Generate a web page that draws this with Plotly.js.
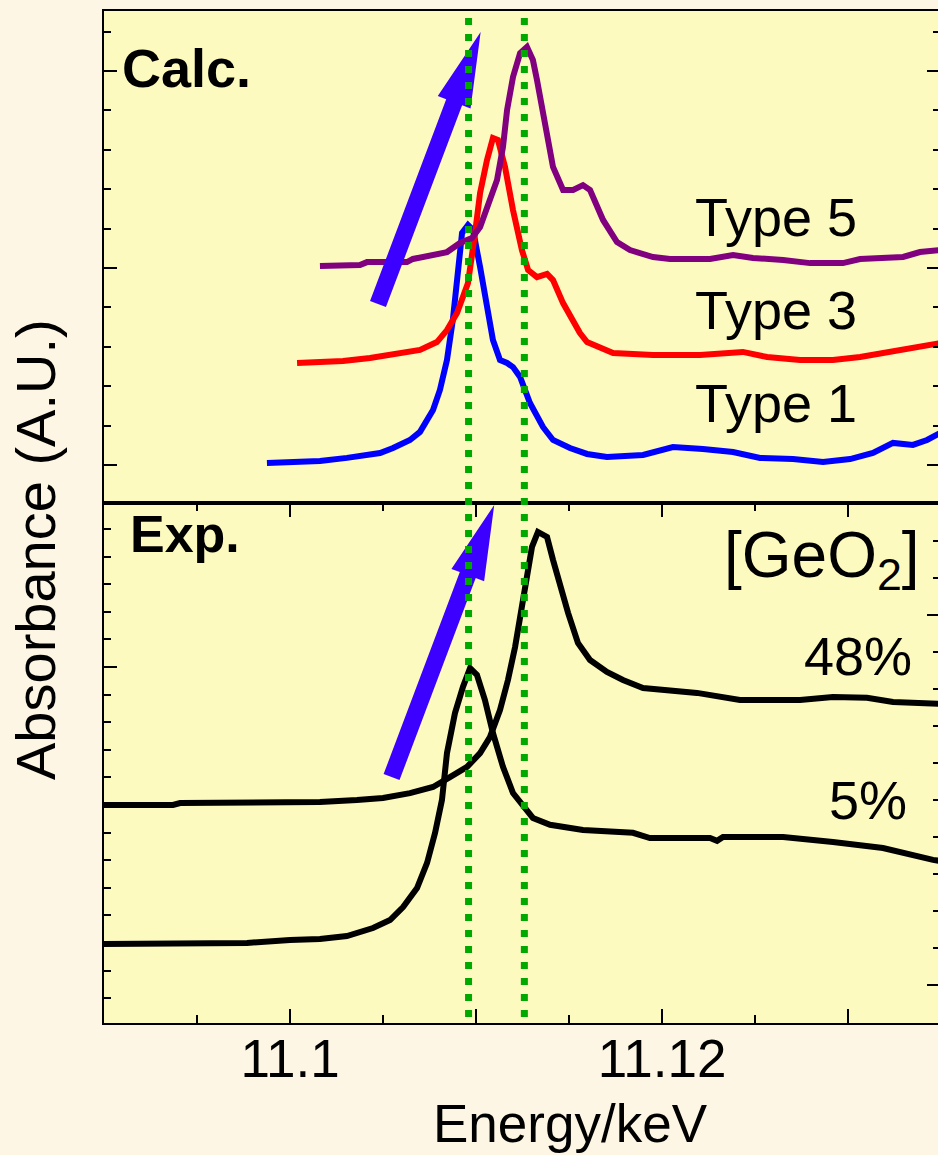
<!DOCTYPE html>
<html>
<head>
<meta charset="utf-8">
<script src="https://cdn.plot.ly/plotly-3.0.1.min.js"></script>
<style>
  html, body { margin: 0; padding: 0; overflow: hidden; background: #fdf6e4; }
</style>
</head>
<body>
<div id="chart"></div>
<script>
// ---- Calculated spectra (energy in keV, absorbance offset per type) ----
const type1Energy = [11.09876, 11.10054, 11.10161, 11.10306, 11.10484, 11.10554, 11.10645, 11.10699, 11.10769, 11.10806, 11.10844, 11.10876, 11.10925, 11.10957, 11.10984, 11.11022, 11.11065, 11.11091, 11.11129, 11.11167, 11.11199, 11.11237, 11.11290, 11.11360, 11.11414, 11.11505, 11.11597, 11.11704, 11.11898, 11.12059, 11.12220, 11.12382, 11.12527, 11.12704, 11.12866, 11.13011, 11.13134, 11.13242, 11.13349, 11.13425, 11.13495];
const type1Abs = [0.010, 0.020, 0.020, 0.036, 0.061, 0.086, 0.127, 0.168, 0.279, 0.381, 0.533, 0.741, 1.178, 1.218, 1.193, 1.005, 0.751, 0.635, 0.533, 0.518, 0.497, 0.447, 0.315, 0.193, 0.127, 0.086, 0.056, 0.041, 0.051, 0.091, 0.081, 0.066, 0.036, 0.030, 0.015, 0.030, 0.061, 0.112, 0.102, 0.127, 0.162];

const type3Energy = [11.10038, 11.10285, 11.10430, 11.10538, 11.10699, 11.10790, 11.10844, 11.10898, 11.10957, 11.10995, 11.11022, 11.11059, 11.11091, 11.11118, 11.11156, 11.11199, 11.11247, 11.11280, 11.11328, 11.11382, 11.11414, 11.11468, 11.11559, 11.11597, 11.11667, 11.11737, 11.11952, 11.12204, 11.12435, 11.12565, 11.12742, 11.12919, 11.13065, 11.13210, 11.13349, 11.13495];
const type3Abs = [0.518, 0.528, 0.543, 0.558, 0.584, 0.624, 0.685, 0.772, 0.924, 1.178, 1.381, 1.548, 1.660, 1.650, 1.513, 1.294, 1.091, 0.990, 0.954, 0.970, 0.939, 0.822, 0.670, 0.624, 0.594, 0.569, 0.558, 0.558, 0.574, 0.548, 0.533, 0.533, 0.548, 0.574, 0.594, 0.619];

const type5Energy = [11.10161, 11.10376, 11.10414, 11.10629, 11.10661, 11.10790, 11.10844, 11.10914, 11.10978, 11.11022, 11.11075, 11.11113, 11.11145, 11.11167, 11.11199, 11.11237, 11.11274, 11.11306, 11.11328, 11.11355, 11.11382, 11.11414, 11.11468, 11.11522, 11.11575, 11.11613, 11.11683, 11.11758, 11.11828, 11.11882, 11.11952, 11.12043, 11.12258, 11.12382, 11.12489, 11.12651, 11.12796, 11.12973, 11.13065, 11.13296, 11.13387, 11.13495];
const type5Abs = [1.010, 1.015, 1.030, 1.030, 1.046, 1.066, 1.081, 1.127, 1.152, 1.208, 1.345, 1.447, 1.614, 1.802, 1.970, 2.091, 2.122, 2.056, 1.954, 1.802, 1.650, 1.513, 1.396, 1.396, 1.421, 1.396, 1.244, 1.132, 1.091, 1.076, 1.056, 1.046, 1.046, 1.066, 1.051, 1.041, 1.025, 1.025, 1.046, 1.056, 1.081, 1.091];

// ---- Measured spectra for two GeO2 contents ----
const exp5Energy = [11.09000, 11.09769, 11.10000, 11.10161, 11.10306, 11.10446, 11.10538, 11.10608, 11.10683, 11.10737, 11.10780, 11.10817, 11.10844, 11.10887, 11.10930, 11.10968, 11.11005, 11.11048, 11.11091, 11.11145, 11.11199, 11.11253, 11.11306, 11.11398, 11.11575, 11.11844, 11.11935, 11.12258, 11.12296, 11.12328, 11.12651, 11.12919, 11.13188, 11.13457, 11.13495];
const exp5Abs = [-0.004, 0.000, 0.011, 0.014, 0.025, 0.054, 0.083, 0.130, 0.199, 0.290, 0.399, 0.518, 0.688, 0.833, 0.928, 0.996, 0.971, 0.880, 0.761, 0.638, 0.543, 0.493, 0.453, 0.428, 0.409, 0.399, 0.380, 0.380, 0.370, 0.384, 0.384, 0.366, 0.344, 0.301, 0.297];

const exp48Energy = [11.09000, 11.09371, 11.09409, 11.10091, 11.10161, 11.10360, 11.10500, 11.10645, 11.10769, 11.10860, 11.10952, 11.11022, 11.11075, 11.11129, 11.11172, 11.11210, 11.11247, 11.11274, 11.11301, 11.11333, 11.11382, 11.11414, 11.11452, 11.11495, 11.11548, 11.11613, 11.11704, 11.11790, 11.11898, 11.12005, 11.12188, 11.12419, 11.12742, 11.12919, 11.13102, 11.13242, 11.13495];
const exp48Abs = [0.500, 0.500, 0.507, 0.507, 0.511, 0.518, 0.525, 0.543, 0.565, 0.601, 0.638, 0.688, 0.746, 0.844, 0.953, 1.072, 1.217, 1.326, 1.435, 1.489, 1.471, 1.388, 1.290, 1.196, 1.087, 1.025, 0.982, 0.953, 0.924, 0.917, 0.906, 0.880, 0.880, 0.891, 0.888, 0.873, 0.866];

// Peak energies marked by dotted guides
const guideEnergies = [11.1096, 11.1126];

// Energy axis: labelled ticks and unlabelled intermediate major ticks
const energyLabelVals = [11.10, 11.12];
const energyLabelText = ['11.1', '11.12'];
const energyPlainVals = [11.09, 11.11, 11.13];

// Labels
const calcLabels = ['Type 1', 'Type 3', 'Type 5'];
const expLabels = ['5%', '48%'];

// ---- Figure geometry ----
const W = 944, H = 1155;
const M = { l: 104, r: 4, t: 11, b: 132 };
const plotW = W - M.l - M.r;
const plotH = H - M.t - M.b;
const split = 520 / plotH;               // bottom panel share of the plot height
const xRange = [11.09, 11.09 + plotW / 18600];
const yTopRange = [-0.193, 2.305];
const yBotRange = [-0.29, 1.594];
const yRightRange = [-0.1027, 1.3027];

const FONT = 'Liberation Sans, Arial, Helvetica, sans-serif';
const AXIS_COLOR = '#000000';
const LINE_W = 6;

// pixel -> paper helpers (used for arrows and text placement)
const pxX = px => (px - M.l) / plotW;
const pxY = py => (M.t + plotH - py) / plotH;
// data -> pixel helpers
const dX = e => M.l + (e - xRange[0]) / (xRange[1] - xRange[0]) * plotW;
function dY(v, panel) {
  let r, d0, d1;
  if (panel === 'top') { r = yTopRange; d0 = split; d1 = 1; }
  else { r = yBotRange; d0 = 0; d1 = split; }
  const frac = d0 + (v - r[0]) / (r[1] - r[0]) * (d1 - d0);
  return M.t + plotH - frac * plotH;
}

function curve(x, y, color, xa, ya) {
  return {
    type: 'scatter', mode: 'lines', x: x, y: y, xaxis: xa, yaxis: ya,
    line: { color: color, width: LINE_W, shape: 'linear' },
    hoverinfo: 'skip', showlegend: false
  };
}

const traces = [
  curve(type1Energy, type1Abs, '#0000ff', 'x', 'y'),
  curve(type3Energy, type3Abs, '#ff0000', 'x', 'y'),
  curve(type5Energy, type5Abs, '#800080', 'x', 'y'),
  curve(exp5Energy, exp5Abs, '#000000', 'x2', 'y2'),
  curve(exp48Energy, exp48Abs, '#000000', 'x2', 'y2'),
  // carry the extra tick scales of the lower panel
  { type: 'scatter', mode: 'lines', x: [], y: [], xaxis: 'x2', yaxis: 'y3', showlegend: false, hoverinfo: 'skip' },
  { type: 'scatter', mode: 'lines', x: [], y: [], xaxis: 'x3', yaxis: 'y2', showlegend: false, hoverinfo: 'skip' }
];

// Filled arrow polygon between two data points (pixel-sized shaft and head)
const arrows = [
  { panel: 'top', tail: [11.10473, 0.817], tip: [11.11025, 2.198] },
  { panel: 'bottom', tail: [11.10546, 0.601], tip: [11.11098, 1.587] }
];
function arrowPath(a) {
  const T = [dX(a.tail[0]), dY(a.tail[1], a.panel)];
  const P = [dX(a.tip[0]), dY(a.tip[1], a.panel)];
  const L = Math.hypot(P[0] - T[0], P[1] - T[1]);
  const u = [(P[0] - T[0]) / L, (P[1] - T[1]) / L];
  const n = [-u[1], u[0]];
  const shaftHalf = 8.5, headHalf = 17.5, headLen = 75;
  const B = [P[0] - u[0] * headLen, P[1] - u[1] * headLen];
  const pts = [
    [T[0] + n[0] * shaftHalf, T[1] + n[1] * shaftHalf],
    [B[0] + n[0] * shaftHalf, B[1] + n[1] * shaftHalf],
    [B[0] + n[0] * headHalf, B[1] + n[1] * headHalf],
    P,
    [B[0] - n[0] * headHalf, B[1] - n[1] * headHalf],
    [B[0] - n[0] * shaftHalf, B[1] - n[1] * shaftHalf],
    [T[0] - n[0] * shaftHalf, T[1] - n[1] * shaftHalf]
  ];
  return 'M' + pts.map(p => pxX(p[0]).toFixed(5) + ',' + pxY(p[1]).toFixed(5)).join(' L') + ' Z';
}

const shapes = [];
arrows.forEach(a => shapes.push({
  type: 'path', xref: 'paper', yref: 'paper', path: arrowPath(a),
  fillcolor: '#3b00ff', line: { width: 0 }, layer: 'above'
}));
guideEnergies.forEach(e => shapes.push({
  type: 'line', xref: 'x', yref: 'paper', x0: e, x1: e,
  y0: pxY(1017), y1: pxY(18),
  line: { color: '#00a800', width: 7, dash: '7px,9px' }, layer: 'above'
}));

function label(text, px, py, size, xanchor, extra) {
  return Object.assign({
    text: text, xref: 'paper', yref: 'paper', x: pxX(px), y: pxY(py),
    xanchor: xanchor, yanchor: 'middle', showarrow: false,
    font: { family: FONT, size: size, color: '#000000' }
  }, extra || {});
}

const annotations = [
  label('<b>Calc.</b>', 120, 68, 54, 'left'),
  label('<b>Exp.</b>', 128, 534, 52, 'left'),
  label(calcLabels[2], 693, 217, 54, 'left'),
  label(calcLabels[1], 693, 310, 54, 'left'),
  label(calcLabels[0], 693, 403, 54, 'left'),
  label('[GeO<sub>2</sub>]', 922, 559, 64, 'right'),
  label(expLabels[1], 914, 656, 54, 'right'),
  label(expLabels[0], 909, 800, 54, 'right'),
  label('Energy/keV', 570, 1123, 53, 'center'),
  label('Absorbance (A.U.)', 36, 550, 56, 'center', { textangle: -90 })
];

const baseAxis = {
  showline: true, linecolor: AXIS_COLOR, linewidth: 2, showgrid: false, zeroline: false,
  tickcolor: AXIS_COLOR, tickwidth: 2
};
const minorTicks = (dtick, tick0) => ({
  ticks: 'inside', ticklen: 7, tickwidth: 2, tickcolor: AXIS_COLOR, dtick: dtick, tick0: tick0, showgrid: false
});

const layout = {
  width: W, height: H,
  margin: M,
  paper_bgcolor: '#fdf6e4',
  plot_bgcolor: '#fdfabf',
  font: { family: FONT, color: '#000000' },
  showlegend: false,
  xaxis: Object.assign({}, baseAxis, {
    domain: [0, 1], anchor: 'y', range: xRange, mirror: true,
    ticks: '', showticklabels: false
  }),
  xaxis2: Object.assign({}, baseAxis, {
    domain: [0, 1], anchor: 'y2', range: xRange, matches: 'x', mirror: 'ticks',
    ticks: 'inside', ticklen: 14, tickmode: 'array', tickvals: energyLabelVals, ticktext: energyLabelText,
    tickfont: { family: FONT, size: 53, color: '#000000' }, ticklabelstandoff: -12,
    minor: Object.assign(minorTicks(0.005, 11.09), { ticklen: 8 })
  }),
  xaxis3: Object.assign({}, baseAxis, {
    overlaying: 'x2', anchor: 'y2', side: 'bottom', range: xRange, mirror: 'ticks', showline: false,
    ticks: 'inside', ticklen: 14, tickmode: 'array', tickvals: energyPlainVals, showticklabels: false
  }),
  yaxis: Object.assign({}, baseAxis, {
    domain: [split, 1], anchor: 'x', range: yTopRange, mirror: 'ticks',
    ticks: 'inside', ticklen: 13, dtick: 1, tick0: 0, showticklabels: false,
    minor: minorTicks(0.2, 0)
  }),
  yaxis2: Object.assign({}, baseAxis, {
    domain: [0, split], anchor: 'x2', range: yBotRange,
    ticks: 'inside', ticklen: 13, dtick: 1, tick0: 0, showticklabels: false,
    minor: minorTicks(0.1, 0)
  }),
  yaxis3: Object.assign({}, baseAxis, {
    overlaying: 'y2', side: 'right', anchor: 'x2', range: yRightRange,
    ticks: 'inside', ticklen: 13, dtick: 1, tick0: 0, showticklabels: false,
    minor: minorTicks(0.1, 0)
  }),
  shapes: shapes,
  annotations: annotations
};

Plotly.newPlot('chart', traces, layout, { displayModeBar: false, staticPlot: true });
</script>
</body>
</html>
